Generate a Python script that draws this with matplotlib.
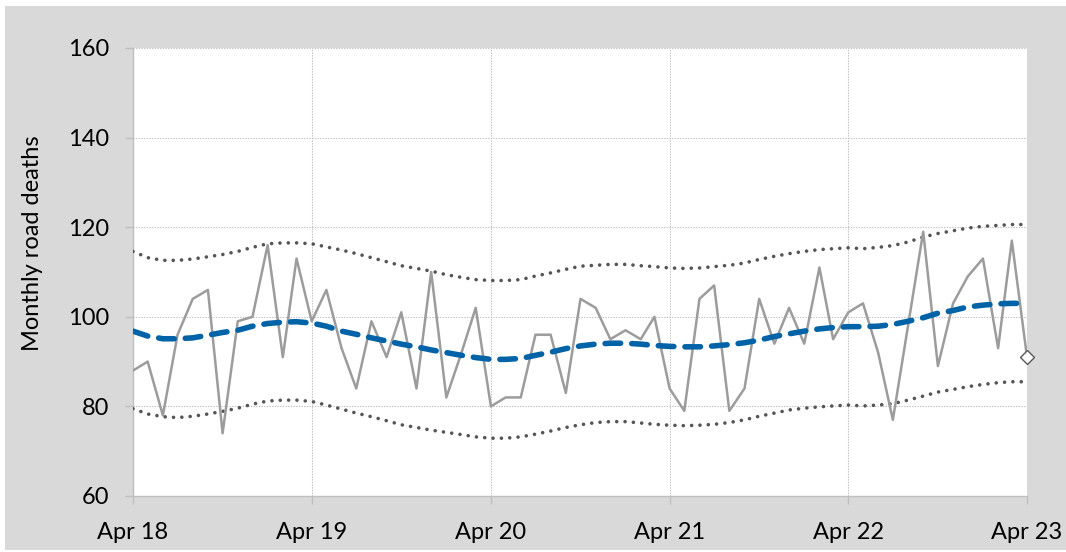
# -*- coding: utf-8 -*-

# import lib
import matplotlib
matplotlib.use('Agg')
import matplotlib.pyplot as plt
from matplotlib.patches import Rectangle
import pandas as pd
import numpy as np

plt.rcParams['font.family'] = ['Lato', 'DejaVu Sans']

#  每月資料 (Apr 2018 - Apr 2023)
months = pd.date_range('2018-04-01', periods=61, freq='MS')

#  每月道路死亡人數
deaths = [88, 90, 78, 96, 104, 106, 74, 99, 100, 116, 91, 113, 99,
          106, 93, 84, 99, 91, 101, 84, 110, 82, 92, 102, 80,
          82, 82, 96, 96, 83, 104, 102, 95, 97, 95, 100, 84,
          79, 104, 107, 79, 84, 104, 94, 102, 94, 111, 95, 101,
          103, 92, 77, 98, 119, 89, 103, 109, 113, 93, 117, 91]

#  趨勢線
trend = [96.8, 95.7, 95.1, 95.1, 95.3, 95.9, 96.5, 97.0, 97.9, 98.5, 98.8, 98.9, 98.6,
         97.9, 96.8, 96.1, 95.3, 94.6, 93.9, 93.3, 92.6, 92.0, 91.4, 90.9, 90.5,
         90.5, 90.7, 91.4, 92.1, 92.9, 93.5, 93.9, 94.1, 94.1, 93.9, 93.6, 93.4,
         93.3, 93.3, 93.5, 93.8, 94.2, 94.8, 95.6, 96.2, 96.8, 97.3, 97.6, 97.8,
         97.8, 97.9, 98.3, 99.0, 99.8, 100.8, 101.4, 102.2, 102.6, 102.9, 103.0, 103.0]

#  上界
upper = [114.6, 113.2, 112.6, 112.6, 112.9, 113.4, 113.9, 114.6, 115.5, 116.3, 116.5, 116.5, 116.3,
         115.6, 114.9, 114.1, 113.2, 112.3, 111.4, 110.8, 110.2, 109.4, 108.8, 108.3, 108.1,
         108.1, 108.3, 109.1, 109.8, 110.6, 111.3, 111.5, 111.7, 111.7, 111.4, 111.2, 110.9,
         110.8, 110.9, 111.2, 111.5, 112.0, 112.8, 113.5, 114.1, 114.6, 115.0, 115.2, 115.4,
         115.2, 115.5, 115.9, 116.7, 117.8, 118.6, 119.2, 119.8, 120.2, 120.4, 120.6, 120.6]

#  下界
lower = [79.5, 78.3, 77.7, 77.5, 77.8, 78.3, 78.9, 79.6, 80.5, 81.2, 81.4, 81.4, 81.1,
         80.3, 79.4, 78.5, 77.7, 76.8, 75.9, 75.3, 74.7, 74.2, 73.7, 73.2, 72.9,
         72.9, 73.2, 73.8, 74.5, 75.3, 75.9, 76.4, 76.6, 76.6, 76.3, 76.0, 75.8,
         75.7, 75.8, 76.0, 76.4, 77.0, 77.8, 78.5, 79.2, 79.6, 79.9, 80.1, 80.3,
         80.1, 80.3, 80.6, 81.4, 82.3, 83.2, 83.8, 84.4, 84.9, 85.3, 85.5, 85.5]

tick_dates = pd.date_range('2018-04-01', periods=6, freq='12MS')
tick_labels = ['Apr 18', 'Apr 19', 'Apr 20', 'Apr 21', 'Apr 22', 'Apr 23']
y_ticks = [60, 80, 100, 120, 140, 160]

#plot
fig = plt.figure(figsize=(10.66, 5.52), dpi=100, facecolor='white')
#  灰色背景
fig.patches.append(Rectangle((5 / 1066, 2 / 552), 1 - 5 / 1066, 544 / 552,
                             transform=fig.transFigure, facecolor='#d9d9d9',
                             edgecolor='none', zorder=-10))
ax = fig.add_axes([133 / 1066, 1 - 496 / 552, 894 / 1066, 448 / 552])
ax.set_facecolor('white')

grid_kw = dict(color='#c0c0c0', linewidth=0.8, linestyle=(0, (1.2, 1.2)), zorder=1)
for yv in y_ticks[1:]:
    ax.axhline(yv, **grid_kw)
for xd in tick_dates[1:]:
    ax.axvline(xd, **grid_kw)

#  上下界 (點線)
ax.plot(months, upper, color='#555555', linewidth=2.6, linestyle=(0, (0.01, 2.3)),
        dash_capstyle='round', zorder=3)
ax.plot(months, lower, color='#555555', linewidth=2.6, linestyle=(0, (0.01, 2.3)),
        dash_capstyle='round', zorder=3)
#  實際值
ax.plot(months, deaths, color='#9c9c9c', linewidth=1.8, zorder=4)
#  趨勢 (虛線)
ax.plot(months, trend, color='#0063a8', linewidth=4.0, linestyle=(0, (2.8, 2.0)),
        dash_capstyle='round', zorder=5)
#  最後一點
ax.plot(months[-1:], deaths[-1:], marker='D', markersize=7, markerfacecolor='white',
        markeredgecolor='#595959', markeredgewidth=1, linestyle='none', clip_on=False, zorder=6)

ax.set_xlim(months[0], months[-1])
ax.set_ylim(60, 160)
ax.set_yticks(y_ticks)
ax.set_xticks(tick_dates)
ax.set_xticklabels(tick_labels)

for s in ['top', 'right']:
    ax.spines[s].set_visible(False)
for s in ['left', 'bottom']:
    ax.spines[s].set_color('#bfbfbf')
    ax.spines[s].set_linewidth(1)

ax.tick_params(axis='both', colors='#bfbfbf', length=6, width=1, labelcolor='black',
               labelsize=17)
ax.tick_params(axis='y', pad=11)
ax.tick_params(axis='x', pad=13)

fig.text(33 / 1066, 1 - 243 / 552, 'Monthly road deaths', rotation=90,
         ha='center', va='center', fontsize=17)

fig.savefig('out.png', dpi=100, facecolor=fig.get_facecolor())
